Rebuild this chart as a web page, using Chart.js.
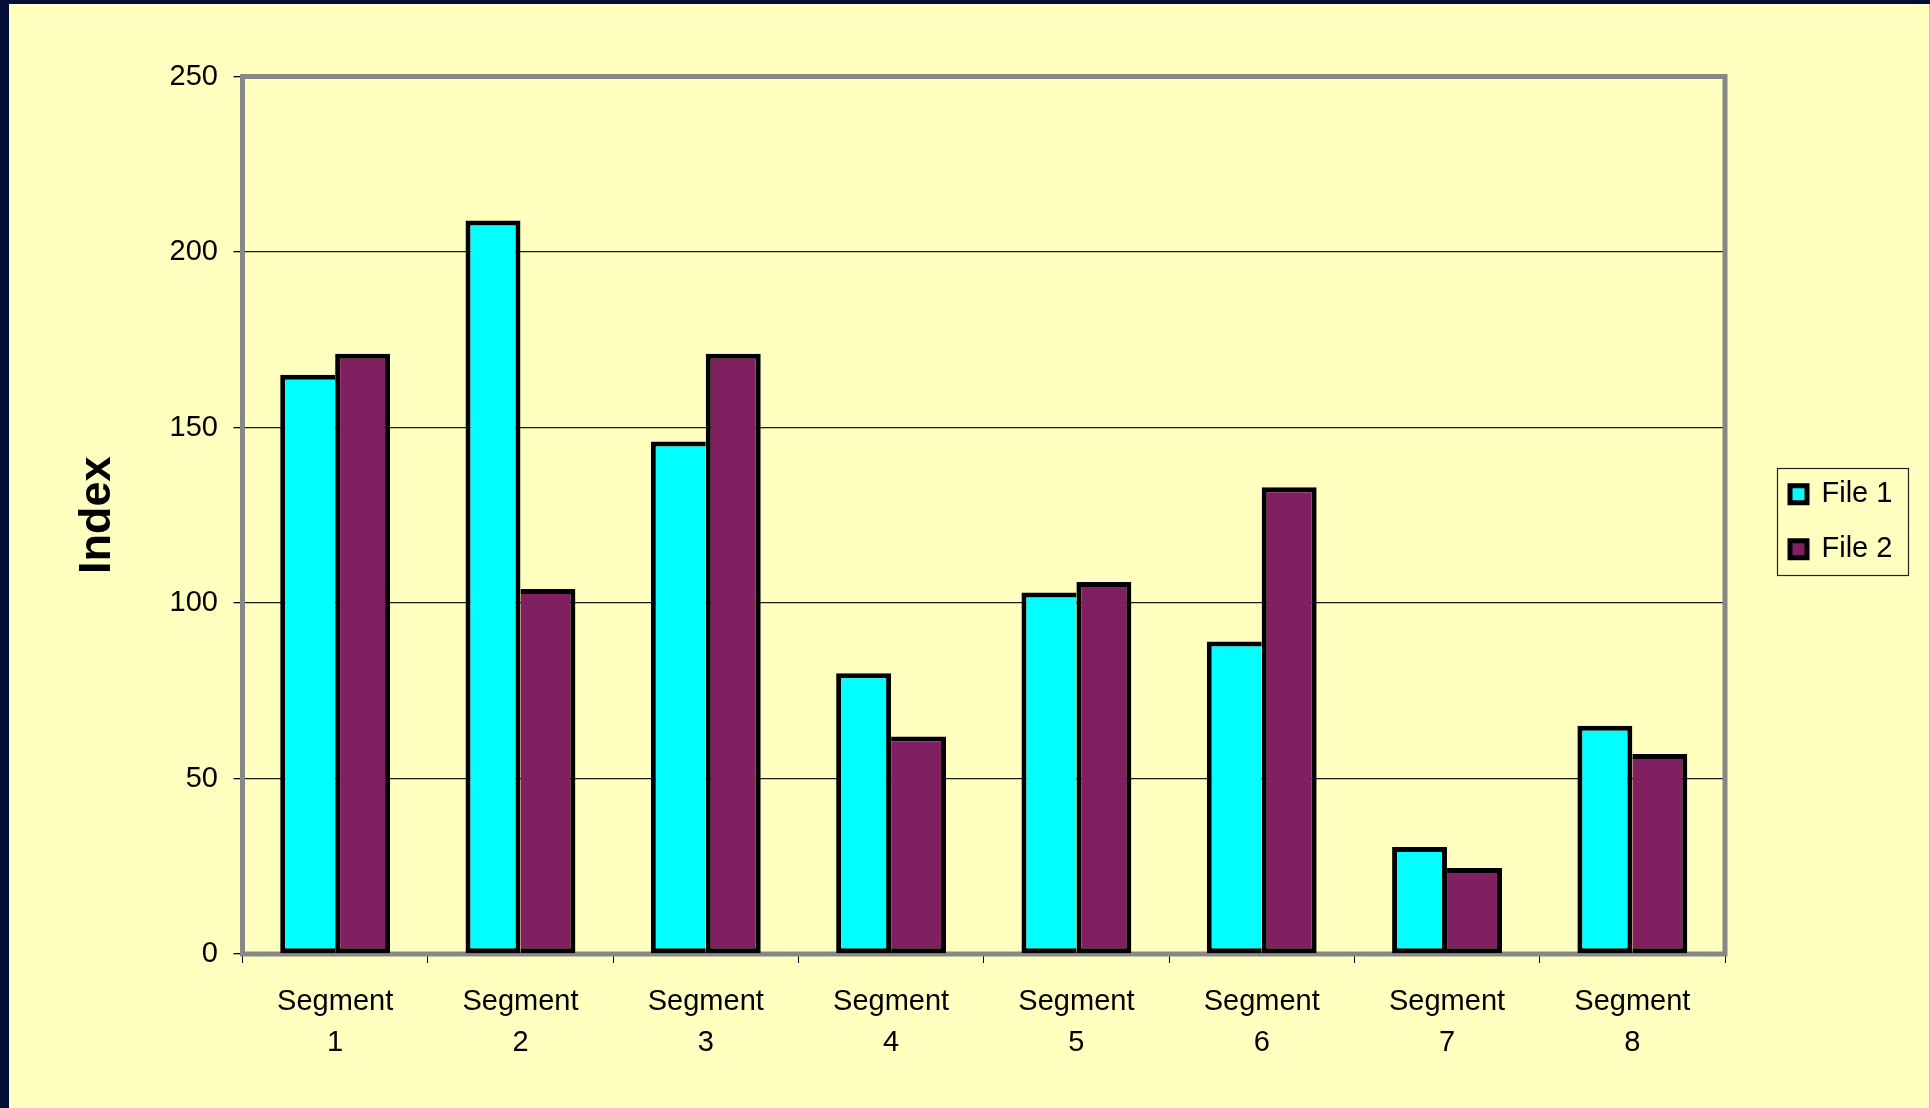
<!DOCTYPE html>
<html>
<head>
<meta charset="utf-8">
<title>Index by segment</title>
<script src="https://cdn.jsdelivr.net/npm/chart.js@4/dist/chart.umd.min.js"></script>
<style>
  html, body { margin: 0; padding: 0; background: #020e38; overflow: hidden; }
  #panel {
    position: absolute; left: 9px; top: 4px;
    width: 1920px; height: 1104px;
    background: #ffffc0;
    border-right: 1px solid #c9c99c;
  }
  canvas { display: block; }
</style>
</head>
<body>
<div id="panel"><canvas id="chart" width="1920" height="1104"></canvas></div>
<script>
// Categories (two-line axis labels)
const segments = [
  ['Segment', '1'], ['Segment', '2'], ['Segment', '3'], ['Segment', '4'],
  ['Segment', '5'], ['Segment', '6'], ['Segment', '7'], ['Segment', '8']
];
// Series values
const file1 = [165, 209, 146, 80, 103, 89, 30.5, 65];
const file2 = [171, 104, 171, 62, 106, 133, 24.5, 57];
const seriesNames = ['File 1', 'File 2'];
// Value axis ticks
const yTicks = [0, 50, 100, 150, 200, 250];

const FONT = "'Liberation Sans', Arial, sans-serif";
const EDGE = 5;

// Grey frame around the plot area, drawn under the bars
const plotFrame = {
  id: 'plotFrame',
  beforeDatasetsDraw(chart) {
    const {ctx, chartArea: a} = chart;
    ctx.save();
    ctx.strokeStyle = '#878787';
    ctx.lineWidth = 5;
    ctx.strokeRect(a.left, a.top, a.right - a.left, a.bottom - a.top);
    ctx.restore();
  }
};

// Moves the legend off the plot edge and draws its thin box
const legendBox = {
  id: 'legendBox',
  afterLayout(chart) {
    const lg = chart.legend;
    const dx = 39, dy = 6.5;
    lg.left += dx; lg.right += dx;
    lg.top += dy; lg.bottom += dy;
  },
  afterDraw(chart) {
    const lg = chart.legend;
    const pad = lg.options.labels.padding;
    const cy = (lg.top + lg.bottom) / 2;
    const x = lg.left + pad - 13;
    const ctx = chart.ctx;
    ctx.save();
    ctx.strokeStyle = '#222';
    ctx.lineWidth = 1.2;
    ctx.strokeRect(Math.round(x) + 0.5, Math.round(cy - 53.5) + 0.5, 131, 107);
    ctx.restore();
  }
};

new Chart(document.getElementById('chart'), {
  type: 'bar',
  data: {
    labels: segments,
    datasets: [
      {
        label: seriesNames[0],
        data: file1,
        backgroundColor: '#00ffff',
        borderColor: '#000',
        borderSkipped: false,
        borderWidth: (c) => ({
          top: EDGE, left: EDGE, bottom: EDGE,
          right: file1[c.dataIndex] >= file2[c.dataIndex] ? EDGE : 0
        })
      },
      {
        label: seriesNames[1],
        data: file2,
        backgroundColor: '#802060',
        borderColor: '#000',
        borderSkipped: false,
        borderWidth: (c) => ({
          top: EDGE, right: EDGE, bottom: EDGE,
          left: file2[c.dataIndex] > file1[c.dataIndex] ? EDGE : 0
        })
      }
    ]
  },
  options: {
    responsive: false,
    animation: false,
    devicePixelRatio: 1,
    categoryPercentage: 0.593,
    barPercentage: 1.0,
    layout: { padding: { top: 72.5, left: 0, right: 74, bottom: 34 } },
    plugins: {
      tooltip: { enabled: false },
      legend: {
        position: 'right',
        fullSize: false,
        maxWidth: 130,
        labels: {
          boxWidth: 17,
          boxHeight: 17,
          padding: 26,
          color: '#000',
          font: { family: FONT, size: 29 },
          generateLabels: (chart) => chart.data.datasets.map((ds, i) => ({
            text: ds.label,
            fillStyle: ds.backgroundColor,
            strokeStyle: '#000',
            lineWidth: 5,
            hidden: false,
            datasetIndex: i,
            fontColor: '#000'
          }))
        }
      }
    },
    scales: {
      x: {
        afterFit: (s) => { s.height = 120; },
        grid: {
          display: true,
          offset: true,
          drawOnChartArea: false,
          drawTicks: true,
          tickLength: 9,
          tickColor: '#000',
          color: '#000'
        },
        border: { display: false },
        ticks: {
          color: '#000',
          padding: 18,
          maxRotation: 0,
          autoSkip: false,
          font: { family: FONT, size: 29, lineHeight: 1.42 }
        }
      },
      y: {
        min: 0,
        max: 250,
        afterFit: (s) => { s.width = 233.5; },
        afterBuildTicks: (s) => { s.ticks = yTicks.map(v => ({ value: v })); },
        grid: {
          color: '#1a1a1a',
          lineWidth: 1.3,
          tickColor: '#000',
          tickLength: 9,
          drawTicks: true
        },
        border: { display: false },
        ticks: {
          color: '#000',
          padding: 15.5,
          font: { family: FONT, size: 29 }
        },
        title: {
          display: true,
          text: 'Index',
          color: '#000',
          padding: { top: 62, bottom: 0 },
          font: { family: FONT, size: 45, weight: 'bold', lineHeight: 1.2 }
        }
      }
    }
  },
  plugins: [plotFrame, legendBox]
});
</script>
</body>
</html>
